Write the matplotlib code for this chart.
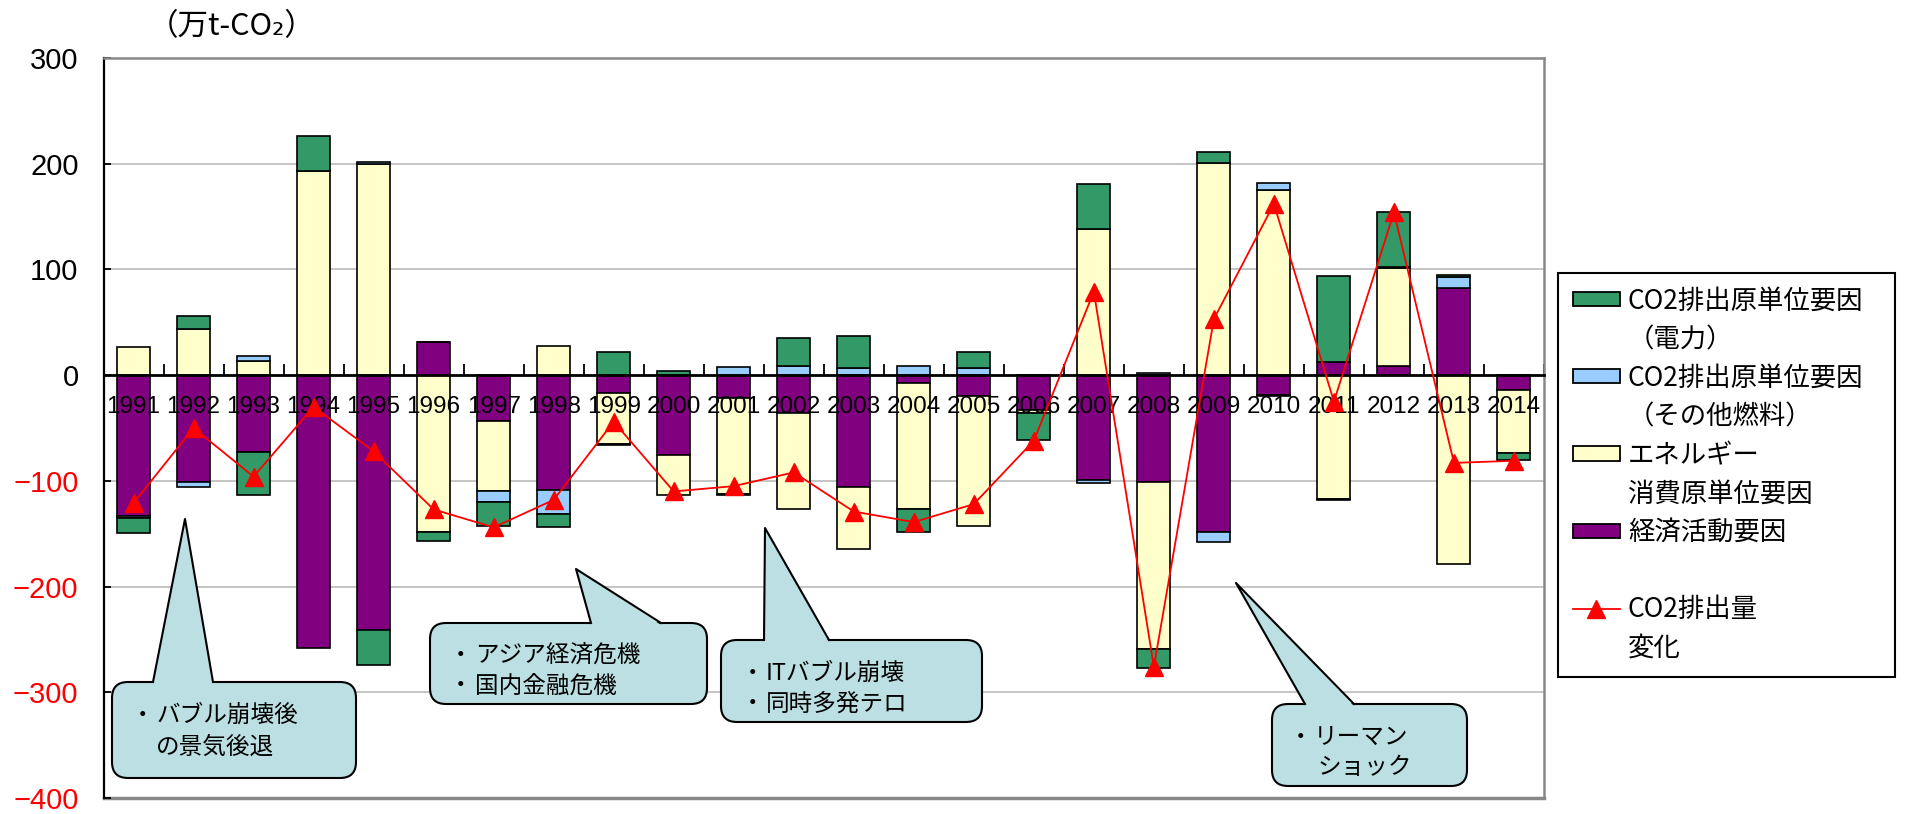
import matplotlib
matplotlib.use('Agg')
import matplotlib.pyplot as plt
from matplotlib.patches import Patch, FancyBboxPatch, Polygon
from matplotlib.lines import Line2D
from matplotlib.transforms import Affine2D
import numpy as np

# ---- data (万t-CO2) ----
years = [str(y) for y in range(1991, 2015)]
econ = [-133, -101, -73, -258, -241, 31, -43, -109, -17, -76, -22, -36,
        -106, -7, -20, -33, -99, -101, -148, -19, 12, 9, 82, -14]
energy = [27, 44, 13, 193, 200, -148, -67, 28, -48, -37, -90, -91,
          -58, -120, -123, -3, 138, -158, 201, 175, -117, 92, -179, -60]
other_fuel = [-2, -5, 5, 0, 2, 0, -10, -22, -1, 0, 8, 9,
              7, 9, 7, 0, -3, 2, -10, 7, -1, 1, 11, 0]
power = [-14, 12, -40, 33, -33, -9, -23, -13, 22, 4, -1, 26,
         30, -21, 15, -25, 43, -18, 10, -1, 82, 52, 2, -6]
total = [-121, -50, -96, -30, -72, -127, -144, -118, -44, -110, -105, -92,
         -129, -139, -122, -62, 79, -276, 53, 162, -25, 154, -83, -81]

y_ticks = [-400, -300, -200, -100, 0, 100, 200, 300]

c_power = '#339966'
c_other = '#99CCFF'
c_energy = '#FFFFCC'
c_econ = '#800080'
c_call = '#BBDFE2'

plt.rcParams['font.family'] = ['Noto Sans CJK JP', 'DejaVu Sans']

fig = plt.figure(figsize=(19.32, 8.14), dpi=100)
ax = fig.add_axes([103.5 / 1932, 16 / 814, 1440.5 / 1932, 740 / 814])

# stacked bars: positives stack upward, negatives downward
x = np.arange(len(years))
pos_base = np.zeros(len(years))
neg_base = np.zeros(len(years))
for vals, col in [(econ, c_econ), (energy, c_energy), (other_fuel, c_other), (power, c_power)]:
    v = np.array(vals, dtype=float)
    bottom = np.where(v >= 0, pos_base, neg_base)
    ax.bar(x, v, width=0.55, bottom=bottom, color=col, edgecolor='black', linewidth=1.2, zorder=1)
    pos_base += np.where(v > 0, v, 0)
    neg_base += np.where(v < 0, v, 0)

ax.plot(x, total, color='red', lw=1.3, marker='^', ms=13, zorder=3)

ax.set_xlim(-0.5, 23.5)
ax.set_ylim(-400, 300)
for g in [-300, -200, -100, 100, 200]:
    ax.axhline(g, color='#C0C0C0', lw=1.3, zorder=0)
ax.axhline(-400, color='#888888', lw=2.5, clip_on=False, zorder=0.5)

ax.spines['bottom'].set_position(('data', 0))
ax.spines['bottom'].set_color('black')
ax.spines['bottom'].set_linewidth(2)
ax.spines['left'].set_linewidth(1.6)
ax.spines['top'].set_color('#888888')
ax.spines['top'].set_linewidth(1.8)
ax.spines['right'].set_color('#888888')
ax.spines['right'].set_linewidth(1.8)

ax.set_xticks(x)
ax.set_xticklabels(years, fontfamily='Liberation Sans', fontsize=17.5)
ax.set_xticks(np.arange(-0.5, len(years), 1), minor=True)
ax.tick_params(axis='x', which='major', length=0, pad=15)
ax.tick_params(axis='x', which='minor', direction='in', length=8, width=1.3)

ax.set_yticks(y_ticks)
ax.set_yticklabels([str(v).replace('-', '\u2212') for v in y_ticks],
                   fontfamily='Liberation Sans', fontsize=21)
for lbl, v in zip(ax.get_yticklabels(), y_ticks):
    if v < 0:
        lbl.set_color('red')
ax.tick_params(axis='y', direction='in', length=5, width=1.3, pad=18)

fig.text(148 / 1932, 1 - 27 / 814, '（万t-CO₂）', fontsize=22, va='center', ha='left')

# callouts, in figure pixels (y downward)
px = Affine2D().scale(1 / 1932, -1 / 814).translate(0, 1) + fig.transFigure


def callout(box, base, tip, lines):
    x0, y0, x1, y1 = box
    ax.add_patch(FancyBboxPatch((x0, y0), x1 - x0, y1 - y0,
                                boxstyle='round,pad=0,rounding_size=16', transform=px,
                                fc=c_call, ec='black', lw=1.5, clip_on=False, zorder=4))
    ax.add_patch(Polygon([(base[0], y0 + 2), tip, (base[1], y0 + 2)], closed=True,
                         transform=px, fc=c_call, ec='none', clip_on=False, zorder=5))
    ax.add_line(Line2D([base[0], tip[0], base[1]], [y0, tip[1], y0], transform=px,
                       color='black', lw=1.5, clip_on=False, zorder=5))
    for tx, ty, s, bullet in lines:
        if bullet:
            ax.text(tx - 14, ty, '・', transform=px, fontsize=17, va='center', ha='center', zorder=6)
        ax.text(tx, ty, s, transform=px, fontsize=17, va='center', ha='left', zorder=6)


callout((112, 682, 356, 778), (153, 213), (185, 519),
        [(156, 715, 'バブル崩壊後', True), (156, 747, 'の景気後退', False)])
callout((430, 623, 707, 704), (591, 661), (576, 569),
        [(475, 655, 'アジア経済危機', True), (475, 686, '国内金融危機', True)])
callout((721, 640, 982, 722), (764, 829), (765, 528),
        [(766, 673, 'ITバブル崩壊', True), (766, 704, '同時多発テロ', True)])
callout((1272, 704, 1467, 786), (1305, 1354), (1236, 583),
        [(1314, 737, 'リーマン', True), (1317, 768, 'ショック', False)])

# legend
blank = Patch(fc='none', ec='none')
handles = [Patch(fc=c_power, ec='black', lw=1.3), blank,
           Patch(fc=c_other, ec='black', lw=1.3), blank,
           Patch(fc=c_energy, ec='black', lw=1.3), blank,
           Patch(fc=c_econ, ec='black', lw=1.3), blank,
           Line2D([], [], color='red', lw=1.3, marker='^', ms=13), blank]
labels = ['CO2排出原単位要因', '（電力）', 'CO2排出原単位要因', '（その他燃料）',
          'エネルギー', '消費原単位要因', '経済活動要因', ' ', 'CO2排出量', '変化']
leg = fig.legend(handles, labels, loc='upper left',
                 bbox_to_anchor=(1558 / 1932, 1 - 273 / 814, 337 / 1932, 0), mode='expand',
                 frameon=True, fancybox=False, edgecolor='black', framealpha=1,
                 fontsize=19, handlelength=1.8, handleheight=0.45, handletextpad=0.3,
                 labelspacing=0.44, borderpad=0.55, borderaxespad=0, numpoints=1)
leg.get_frame().set_linewidth(1.5)

fig.savefig('out.png', dpi=100)
